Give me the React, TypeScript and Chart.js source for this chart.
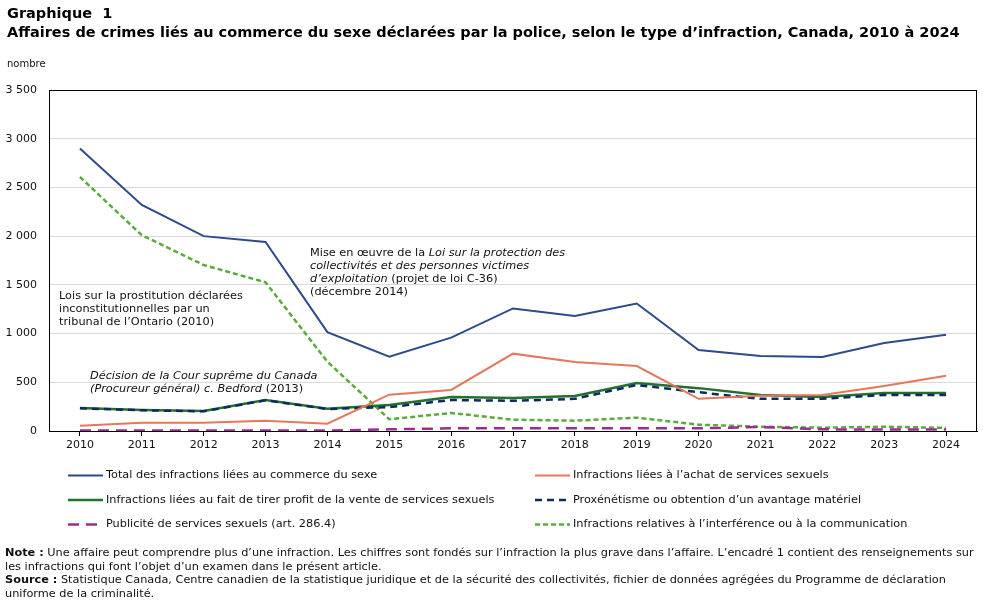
import React, { useEffect, useRef } from "react";
import { Chart, registerables } from "chart.js";

Chart.register(...registerables);

// Years on the horizontal axis
const years = ["2010", "2011", "2012", "2013", "2014", "2015", "2016", "2017", "2018", "2019", "2020", "2021", "2022", "2023", "2024"];

// Police-reported incidents, by type of offence
const totalSexTrade = [2900, 2320, 2000, 1940, 1015, 763, 958, 1258, 1180, 1308, 831, 770, 760, 903, 989];
const purchasing = [55, 85, 85, 106, 75, 373, 421, 794, 708, 667, 330, 362, 370, 462, 566];
const materialBenefit = [236, 216, 205, 318, 229, 267, 349, 339, 360, 493, 440, 370, 350, 390, 390];
const procuring = [233, 213, 202, 315, 226, 245, 318, 310, 330, 472, 398, 330, 330, 370, 370];
const advertising = [4, 4, 4, 4, 4, 17, 27, 27, 27, 27, 27, 41, 17, 15, 15];
const interference = [2607, 2010, 1704, 1526, 711, 120, 185, 116, 106, 137, 65, 44, 34, 44, 32];

const yTicks = [0, 500, 1000, 1500, 2000, 2500, 3000, 3500];

const seriesLabels = [
  "Total des infractions liées au commerce du sexe",
  "Infractions liées à l’achat de services sexuels",
  "Infractions liées au fait de tirer profit de la vente de services sexuels",
  "Proxénétisme ou obtention d’un avantage matériel",
  "Publicité de services sexuels (art. 286.4)",
  "Infractions relatives à l’interférence ou à la communication",
];

const FONT = "'DejaVu Sans', Verdana, sans-serif";

function formatNumber(v: number): string {
  if (v >= 1000) {
    const th = Math.floor(v / 1000);
    const rest = String(v % 1000).padStart(3, "0");
    return th + " " + rest;
  }
  return String(v);
}

type Run = { text: string; italic?: boolean };

function drawRuns(ctx: CanvasRenderingContext2D, runs: Run[], x: number, y: number, size: number) {
  let cx = x;
  for (const r of runs) {
    ctx.font = `${r.italic ? "italic " : ""}${size}px ${FONT}`;
    ctx.fillText(r.text, cx, y);
    cx += ctx.measureText(r.text).width;
  }
}

const overlayPlugin = {
  id: "overlay",
  afterDraw(chart: any) {
    const { ctx, chartArea } = chart;
    const { left, top, right, bottom } = chartArea;
    ctx.save();

    // frame around the plot area
    ctx.strokeStyle = "#000";
    ctx.lineWidth = 1;
    ctx.strokeRect(Math.round(left) + 0.5, Math.round(top) + 0.5, Math.round(right - left) - 1, Math.round(bottom - top));

    // notes on the plot
    ctx.fillStyle = "#111";
    ctx.textBaseline = "middle";
    ctx.textAlign = "left";
    const s = 11.3;
    const a1x = left + 10;
    drawRuns(ctx, [{ text: "Lois sur la prostitution déclarées" }], a1x, 296, s);
    drawRuns(ctx, [{ text: "inconstitutionnelles par un" }], a1x, 309.5, s);
    drawRuns(ctx, [{ text: "tribunal de l’Ontario (2010)" }], a1x, 322.5, s);

    const a2x = left + 41;
    drawRuns(ctx, [{ text: "Décision de la Cour suprême du Canada", italic: true }], a2x, 376, s);
    drawRuns(ctx, [{ text: "(Procureur général) c. Bedford", italic: true }, { text: " (2013)" }], a2x, 389, s);

    const a3x = left + 261;
    drawRuns(ctx, [{ text: "Mise en œuvre de la " }, { text: "Loi sur la protection des", italic: true }], a3x, 253.5, s);
    drawRuns(ctx, [{ text: "collectivités et des personnes victimes", italic: true }], a3x, 266.5, s);
    drawRuns(ctx, [{ text: "d’exploitation", italic: true }, { text: " (projet de loi C-36)" }], a3x, 279.5, s);
    drawRuns(ctx, [{ text: "(décembre 2014)" }], a3x, 292.5, s);

    // legend in two columns
    const colX = [68, 535];
    const rowY = [475.5, 500, 524.5];
    chart.data.datasets.forEach((ds: any, i: number) => {
      const col = i % 2;
      const row = Math.floor(i / 2);
      const x = colX[col];
      const y = rowY[row];
      ctx.beginPath();
      ctx.strokeStyle = ds.borderColor;
      ctx.lineWidth = ds.borderWidth;
      ctx.setLineDash(ds.borderDash || []);
      ctx.moveTo(x, y);
      ctx.lineTo(x + 35, y);
      ctx.stroke();
      ctx.setLineDash([]);
      ctx.fillStyle = "#111";
      ctx.font = `11.3px ${FONT}`;
      ctx.fillText(ds.label, x + 38, y);
    });

    ctx.restore();
  },
};

export default function App() {
  const canvasRef = useRef<HTMLCanvasElement | null>(null);

  useEffect(() => {
    document.body.style.margin = "0";
    const canvas = canvasRef.current;
    if (!canvas) return;
    const chart = new Chart(canvas, {
      type: "line",
      data: {
        labels: years,
        datasets: [
          { label: seriesLabels[0], data: totalSexTrade, borderColor: "#2d4a8c", borderWidth: 2, order: 0 },
          { label: seriesLabels[1], data: purchasing, borderColor: "#e5775a", borderWidth: 2, order: 1 },
          { label: seriesLabels[2], data: materialBenefit, borderColor: "#23702f", borderWidth: 2.5, order: 3 },
          { label: seriesLabels[3], data: procuring, borderColor: "#0f2a5f", borderWidth: 2.5, borderDash: [7, 5], order: 2 },
          { label: seriesLabels[4], data: advertising, borderColor: "#9c2c94", borderWidth: 2.5, borderDash: [11, 7], order: 4 },
          { label: seriesLabels[5], data: interference, borderColor: "#5bab3a", borderWidth: 2.5, borderDash: [5, 3], order: 5 },
        ].map((d) => ({ ...d, pointRadius: 0, fill: false, tension: 0, backgroundColor: d.borderColor })),
      },
      options: {
        responsive: false,
        animation: false,
        layout: { padding: { top: 90, right: 6, bottom: 154, left: 0 } },
        plugins: {
          legend: { display: false },
          tooltip: { enabled: false },
          title: { display: false },
        },
        scales: {
          x: {
            type: "category",
            offset: true,
            grid: { display: true, drawOnChartArea: false, drawTicks: true, tickLength: 5, color: "#000", offset: false },
            border: { display: true, color: "#000" },
            ticks: { font: { family: FONT, size: 11 }, color: "#111", padding: 3, maxRotation: 0, autoSkip: false },
            afterFit: (s: any) => {
              s.height = 20;
            },
          },
          y: {
            min: 0,
            max: 3500,
            afterBuildTicks: (s: any) => {
              s.ticks = yTicks.map((v) => ({ value: v }));
            },
            grid: { color: "#d9d9d9", drawTicks: false },
            border: { display: false },
            ticks: {
              font: { family: FONT, size: 11 },
              color: "#111",
              padding: 12,
              callback: (v: any) => formatNumber(Number(v)),
            },
            afterFit: (s: any) => {
              s.width = 49;
            },
          },
        },
      },
      plugins: [overlayPlugin],
    });
    return () => chart.destroy();
  }, []);

  const textColor = "#111";
  return (
    <div style={{ position: "absolute", left: 0, top: 0, width: 983, height: 605, background: "#fff", overflow: "hidden" }}>
      <canvas ref={canvasRef} width={983} height={605} style={{ position: "absolute", left: 0, top: 0 }} />
      <div style={{ position: "absolute", left: 7, top: 4, fontFamily: FONT, fontWeight: "bold", fontSize: 14.5, lineHeight: "19px", color: "#000", whiteSpace: "nowrap" }}>
        <div>Graphique&nbsp; 1</div>
        <div>Affaires de crimes liés au commerce du sexe déclarées par la police, selon le type d’infraction, Canada, 2010 à 2024</div>
      </div>
      <div style={{ position: "absolute", left: 7, top: 58, fontFamily: FONT, fontSize: 10, color: textColor }}>nombre</div>
      <div style={{ position: "absolute", left: 5, top: 546, fontFamily: FONT, fontSize: 11.3, lineHeight: "13.5px", color: textColor, whiteSpace: "nowrap" }}>
        <div><b>Note :</b> Une affaire peut comprendre plus d’une infraction. Les chiffres sont fondés sur l’infraction la plus grave dans l’affaire. L’encadré 1 contient des renseignements sur</div>
        <div>les infractions qui font l’objet d’un examen dans le présent article.</div>
        <div><b>Source :</b> Statistique Canada, Centre canadien de la statistique juridique et de la sécurité des collectivités, fichier de données agrégées du Programme de déclaration</div>
        <div>uniforme de la criminalité.</div>
      </div>
    </div>
  );
}
